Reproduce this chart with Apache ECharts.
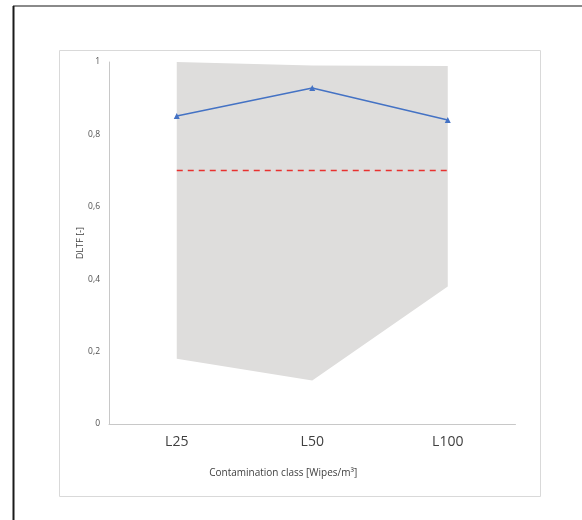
<!DOCTYPE html>
<html><head><meta charset="utf-8">
<script src="https://cdn.jsdelivr.net/npm/echarts@6/dist/echarts.min.js"></script>
<style>html,body{margin:0;padding:0;background:#fff}#c{width:582px;height:520px}</style>
</head><body><div id="c"></div>
<script>
const categories = ['L25', 'L50', 'L100'];
const dltfMean = [0.851, 0.928, 0.84];
const bandUpper = [1.0, 0.99, 0.989];
const bandLower = [0.18, 0.12, 0.38];
const threshold = [0.7, 0.7, 0.7];
const yTicks = [0, 0.2, 0.4, 0.6, 0.8, 1];

const bandDiff = bandUpper.map((u, i) => +(u - bandLower[i]).toFixed(4));
const font = "'Open Sans', 'Liberation Sans', sans-serif";
const chart = echarts.init(document.getElementById('c'));
chart.setOption({
  animation: false,
  graphic: [
    { type: 'line', shape: { x1: 13, y1: 6, x2: 582, y2: 6 }, style: { stroke: '#8a8a8a', lineWidth: 2 } },
    { type: 'line', shape: { x1: 13.5, y1: 6, x2: 13.5, y2: 520 }, style: { stroke: '#1a1a1a', lineWidth: 2 } },
    { type: 'rect', shape: { x: 59.5, y: 50.5, width: 481, height: 446 }, style: { fill: 'none', stroke: '#d9d9d9', lineWidth: 1 }, z: -1 }
  ],
  grid: { left: 109, right: 66.5, top: 62, bottom: 96 },
  xAxis: {
    type: 'category', data: categories, boundaryGap: true,
    axisLine: { lineStyle: { color: '#c8c8c8', width: 1 } },
    axisTick: { show: false },
    axisLabel: { color: '#404040', fontSize: 14, fontFamily: font, margin: 11 },
    name: 'Contamination class [Wipes/m³]', nameLocation: 'middle', nameGap: 44,
    nameTextStyle: { color: '#404040', fontSize: 10, fontFamily: font, padding: [0, 58, 0, 0] }
  },
  yAxis: {
    type: 'value', min: 0, max: 1, interval: 0.2,
    axisLine: { show: true, lineStyle: { color: '#c8c8c8', width: 1 } },
    axisTick: { show: false },
    splitLine: { show: false },
    axisLabel: { color: '#505050', fontSize: 8.5, fontFamily: font, margin: 9,
      formatter: v => yTicks.includes(+v.toFixed(1)) ? String(+v.toFixed(1)).replace('.', ',') : '' },
    name: 'DLTF [-]', nameLocation: 'middle', nameGap: 24, nameMoveOverlap: false,
    nameTextStyle: { color: '#404040', fontSize: 9, fontFamily: font }
  },
  series: [
    { type: 'line', data: bandLower, stack: 'band', symbol: 'none', lineStyle: { width: 0 }, areaStyle: { opacity: 0 }, silent: true },
    { type: 'line', data: bandDiff, stack: 'band', symbol: 'none', lineStyle: { width: 0 }, areaStyle: { color: '#dedddc', opacity: 1 }, silent: true },
    { type: 'line', data: threshold, symbol: 'none', lineStyle: { color: '#e8312f', width: 1.5, type: [6, 5] }, z: 3 },
    { type: 'line', data: dltfMean, symbol: 'triangle', symbolSize: 6, itemStyle: { color: '#4472c4' }, lineStyle: { color: '#4472c4', width: 1.5 }, z: 4 }
  ]
});
</script></body></html>
